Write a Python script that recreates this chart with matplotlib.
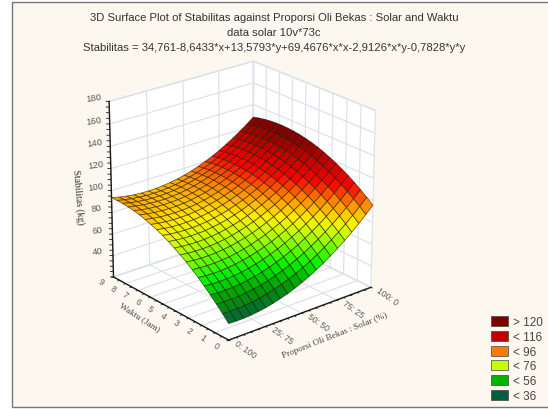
import matplotlib
matplotlib.use("Agg")
import matplotlib.pyplot as plt
import numpy as np
from matplotlib.colors import LinearSegmentedColormap, Normalize
from matplotlib.patches import Patch, Rectangle
from mpl_toolkits.mplot3d import proj3d

W, H = 548, 410
BG = "#fdf8ef"

TITLE = [
    "3D Surface Plot of Stabilitas against Proporsi Oli Bekas : Solar and Waktu",
    "data solar 10v*73c",
    "Stabilitas = 34,761-8,6433*x+13,5793*y+69,4676*x*x-2,9126*x*y-0,7828*y*y",
]

# grid of the surface, x = proporsi, y = waktu
x_vals = [0.00, 0.05, 0.10, 0.15, 0.20, 0.25, 0.30, 0.35, 0.40, 0.45, 0.50,
          0.55, 0.60, 0.65, 0.70, 0.75, 0.80, 0.85, 0.90, 0.95, 1.00]
y_vals = [0.00, 0.45, 0.90, 1.35, 1.80, 2.25, 2.70, 3.15, 3.60, 4.05, 4.50,
          4.95, 5.40, 5.85, 6.30, 6.75, 7.20, 7.65, 8.10, 8.55, 9.00]
z_vals = [
    [34.8, 34.5, 34.6, 35.0, 35.8, 36.9, 38.4, 40.3, 42.4, 44.9, 47.8, 51.0, 54.6, 58.5, 62.8, 67.4, 72.3, 77.6, 83.3, 89.2, 95.6],
    [40.7, 40.4, 40.4, 40.8, 41.5, 42.6, 44.0, 45.8, 47.9, 50.3, 53.1, 56.3, 59.8, 63.6, 67.8, 72.4, 77.2, 82.4, 88.0, 93.9, 100.2],
    [46.4, 46.0, 45.9, 46.2, 46.9, 47.9, 49.2, 50.9, 53.0, 55.4, 58.1, 61.2, 64.6, 68.4, 72.5, 77.0, 81.8, 87.0, 92.5, 98.3, 104.6],
    [51.7, 51.2, 51.1, 51.4, 51.9, 52.9, 54.2, 55.8, 57.8, 60.1, 62.8, 65.8, 69.1, 72.9, 76.9, 81.3, 86.1, 91.2, 96.6, 102.4, 108.6],
    [56.7, 56.2, 56.0, 56.2, 56.7, 57.5, 58.8, 60.3, 62.2, 64.5, 67.1, 70.1, 73.4, 77.0, 81.0, 85.3, 90.0, 95.1, 100.4, 106.2, 112.3],
    [61.4, 60.8, 60.5, 60.6, 61.1, 61.9, 63.1, 64.6, 66.4, 68.6, 71.1, 74.0, 77.2, 80.8, 84.8, 89.0, 93.7, 98.6, 104.0, 109.6, 115.6],
    [65.7, 65.1, 64.8, 64.8, 65.2, 65.9, 67.0, 68.5, 70.2, 72.4, 74.8, 77.7, 80.8, 84.3, 88.2, 92.4, 97.0, 101.9, 107.1, 112.7, 118.7],
    [69.8, 69.1, 68.7, 68.7, 69.0, 69.7, 70.7, 72.1, 73.8, 75.8, 78.2, 81.0, 84.1, 87.5, 91.3, 95.5, 100.0, 104.8, 110.0, 115.5, 121.4],
    [73.5, 72.7, 72.3, 72.2, 72.5, 73.1, 74.0, 75.3, 77.0, 79.0, 81.3, 84.0, 87.0, 90.4, 94.2, 98.2, 102.7, 107.4, 112.6, 118.0, 123.9],
    [76.9, 76.1, 75.6, 75.4, 75.6, 76.2, 77.0, 78.3, 79.9, 81.8, 84.1, 86.7, 89.7, 93.0, 96.7, 100.7, 105.0, 109.8, 114.8, 120.2, 126.0],
    [80.0, 79.1, 78.5, 78.3, 78.5, 78.9, 79.8, 80.9, 82.4, 84.3, 86.5, 89.1, 92.0, 95.2, 98.8, 102.8, 107.1, 111.7, 116.7, 122.1, 127.8],
    [82.8, 81.8, 81.2, 80.9, 81.0, 81.4, 82.1, 83.3, 84.7, 86.5, 88.7, 91.1, 94.0, 97.2, 100.7, 104.6, 108.8, 113.4, 118.3, 123.6, 129.2],
    [85.3, 84.2, 83.5, 83.2, 83.2, 83.5, 84.2, 85.3, 86.6, 88.4, 90.5, 92.9, 95.7, 98.8, 102.3, 106.1, 110.2, 114.8, 119.6, 124.8, 130.4],
    [87.4, 86.3, 85.5, 85.1, 85.1, 85.3, 86.0, 86.9, 88.3, 89.9, 92.0, 94.3, 97.0, 100.1, 103.5, 107.2, 111.3, 115.8, 120.6, 125.7, 131.2],
    [89.2, 88.1, 87.2, 86.8, 86.6, 86.8, 87.4, 88.3, 89.6, 91.2, 93.1, 95.4, 98.1, 101.1, 104.4, 108.1, 112.1, 116.5, 121.2, 126.3, 131.7],
    [90.8, 89.5, 88.6, 88.1, 87.9, 88.0, 88.5, 89.4, 90.6, 92.1, 94.0, 96.2, 98.8, 101.7, 105.0, 108.6, 112.6, 116.9, 121.6, 126.6, 131.9],
    [92.0, 90.6, 89.7, 89.1, 88.8, 88.9, 89.3, 90.1, 91.2, 92.7, 94.5, 96.7, 99.2, 102.1, 105.3, 108.8, 112.7, 117.0, 121.6, 126.5, 131.8],
    [92.8, 91.5, 90.4, 89.8, 89.4, 89.4, 89.8, 90.5, 91.6, 93.0, 94.8, 96.8, 99.3, 102.1, 105.2, 108.7, 112.6, 116.8, 121.3, 126.2, 131.4],
    [93.4, 92.0, 90.9, 90.1, 89.7, 89.7, 90.0, 90.6, 91.6, 93.0, 94.7, 96.7, 99.1, 101.8, 104.9, 108.3, 112.1, 116.2, 120.7, 125.5, 130.6],
    [93.6, 92.1, 91.0, 90.2, 89.7, 89.6, 89.8, 90.4, 91.3, 92.6, 94.3, 96.2, 98.5, 101.2, 104.2, 107.6, 111.3, 115.3, 119.7, 124.5, 129.6],
    [93.6, 92.0, 90.8, 89.9, 89.4, 89.2, 89.4, 89.9, 90.8, 92.0, 93.5, 95.4, 97.7, 100.3, 103.2, 106.5, 110.2, 114.2, 118.5, 123.2, 128.2],
]

x_ticks = [0.0, 0.25, 0.5, 0.75, 1.0]
x_labels = ["0: 100", "25: 75", "50: 50", "75: 25", "100: 0"]
y_ticks = [0, 1, 2, 3, 4, 5, 6, 7, 8, 9]
z_ticks = [40, 60, 80, 100, 120, 140, 160, 180]

legend_labels = ["> 120", "< 116", "< 96", "< 76", "< 56", "< 36"]
legend_colors = ["#7d0000", "#c00000", "#ff7a00", "#c4ff00", "#00b400", "#005f3c"]

# colour stops picked off the surface
level_vals = [34, 48, 58, 68, 76, 84, 96, 106, 116, 130]
level_cols = ["#005f3c", "#00a000", "#00f000", "#70ff00", "#c4ff00", "#ffee00",
              "#ff8000", "#ff0000", "#c80000", "#7d0000"]

fig = plt.figure(figsize=(W / 100, H / 100), dpi=100, facecolor="white")
fig.add_artist(Rectangle((12 / W, 1 - 408 / H), 540 / W, 405 / H, transform=fig.transFigure,
                         facecolor=BG, edgecolor="#777777", lw=1.0, zorder=-5))

for i, line in enumerate(TITLE):
    fig.text(274 / W, 1 - (18 + i * 15) / H, line, ha="center", va="center",
             fontsize=8.1, family="Liberation Sans", color="#333333")

ax = fig.add_axes([-38 / W, 3 / H, 1.0, 1.0], projection="3d", computed_zorder=False)
ax.patch.set_alpha(0)
ax.set_proj_type("persp", focal_length=1.0)
ax.view_init(elev=23, azim=-129.6)
ax.set_box_aspect((1, 1, 1.03), zoom=0.77)
ax.set_xlim(0, 1)
ax.set_ylim(0, 9)
ax.set_zlim(20, 180)

# no built-in ticks, grid and axes are drawn by hand below
ax.set_xticks([])
ax.set_yticks([])
ax.set_zticks([])
for a in (ax.xaxis, ax.yaxis, ax.zaxis):
    a.set_pane_color((1, 1, 1, 1))
    a.pane.set_edgecolor("#d8dbe2")
    a.line.set_color((0, 0, 0, 0))

grid_kw = dict(color="#dfe2ea", lw=0.9, zorder=1)
for v in x_ticks:
    ax.plot([v, v], [0, 9], [20, 20], **grid_kw)
    ax.plot([v, v], [9, 9], [20, 180], **grid_kw)
for v in y_ticks:
    ax.plot([0, 1], [v, v], [20, 20], **grid_kw)
    ax.plot([1, 1], [v, v], [20, 180], **grid_kw)
for v in z_ticks:
    ax.plot([0, 1], [9, 9], [v, v], **grid_kw)
    ax.plot([1, 1], [0, 9], [v, v], **grid_kw)

cmap = LinearSegmentedColormap.from_list(
    "stab", [((v - level_vals[0]) / (level_vals[-1] - level_vals[0]), c)
             for v, c in zip(level_vals, level_cols)])
norm = Normalize(level_vals[0], level_vals[-1])
X, Y = np.meshgrid(x_vals, y_vals)
Z = np.array(z_vals)
ax.plot_surface(X, Y, Z, cmap=cmap, norm=norm, rstride=1, cstride=1, shade=False,
                edgecolor=(0.12, 0.08, 0.02, 0.62), linewidth=0.6, antialiased=True, zorder=5)

axis_kw = dict(color="#1a1a1a", lw=1.0, zorder=6)
ax.plot([0, 1], [0, 0], [20, 20], **axis_kw)
ax.plot([0, 0], [0, 9], [20, 20], **axis_kw)
ax.plot([0, 0], [9, 9], [20, 180], **axis_kw)

tick_kw = dict(color="#1a1a1a", lw=0.6, zorder=6)
for v in np.arange(0, 1.001, 0.05):
    ax.plot([v, v], [0, -0.1], [20, 20], **tick_kw)
for v in np.arange(0, 9.001, 0.5):
    ax.plot([0, -0.012], [v, v], [20, 20], **tick_kw)
for v in np.arange(20, 180.1, 5):
    ax.plot([0, -0.012], [9, 9.1], [v, v], **tick_kw)


def tick_label(x, y, z, s, size, rot):
    # project by hand so the label is plain 2D text
    px, py, _ = proj3d.proj_transform(x, y, z, ax.get_proj())
    ax.text2D(px, py, s, transform=ax.transData, fontsize=size, rotation=rot, ha="center", va="center",
              family="Liberation Sans", color="#5a5a5a")


for v, s in zip(x_ticks, x_labels):
    tick_label(v, -1.2, 20, s, 6.2, -35)
for v in y_ticks:
    tick_label(-0.085, v, 20, str(v), 6.2, -35)
for v in z_ticks:
    tick_label(-0.03, 9.9, v, str(v), 6.8, 8)

fig.text(78 / W, 1 - 197 / H, "Stabilitas (kg)", fontsize=7, rotation=-85, ha="center", va="center",
         family="Liberation Serif", color="#333333")
fig.text(140 / W, 1 - 318 / H, "Waktu (Jam)", fontsize=6.6, rotation=-33, ha="center", va="center",
         family="Liberation Serif", color="#444444")
fig.text(335 / W, 1 - 336 / H, "Proporsi Oli Bekas : Solar (%)", fontsize=6.6, rotation=21.5,
         ha="center", va="center", family="Liberation Serif", color="#444444")

handles = [Patch(facecolor=c, edgecolor="#444444", lw=0.5) for c in legend_colors]
fig.legend(handles, legend_labels, loc="lower left", bbox_to_anchor=(488.6 / W, 1 - 405.4 / H), frameon=False,
           handlelength=1.44, handleheight=0.93, labelspacing=0.23, handletextpad=0.45, borderpad=0.2,
           borderaxespad=0, prop={"family": "Liberation Sans", "size": 8.5}, labelcolor="#444444")

fig.savefig("out.png", dpi=100, facecolor="white")
